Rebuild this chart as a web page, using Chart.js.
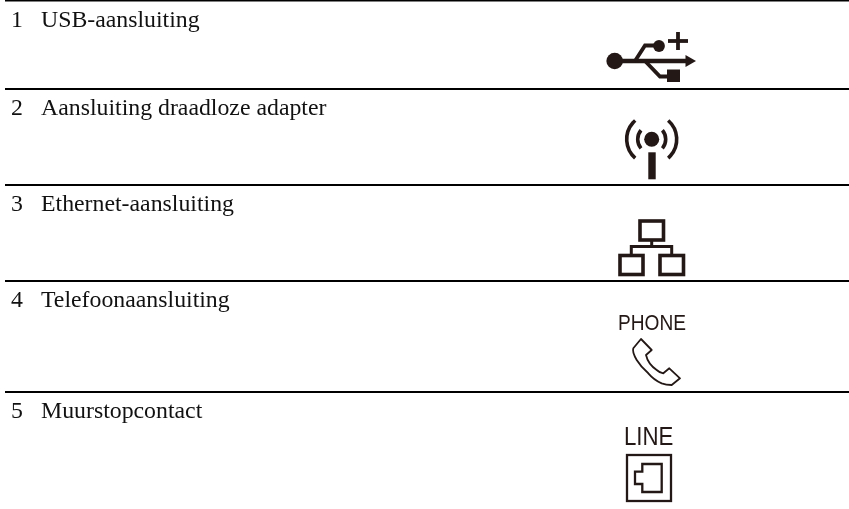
<!DOCTYPE html>
<html><head><meta charset="utf-8">
<script src="https://cdn.jsdelivr.net/npm/chart.js@4"></script>
<style>html,body{margin:0;padding:0;background:#fff}canvas{display:block}</style></head>
<body><canvas id="c" width="849" height="509"></canvas>
<script>
const rowNumbers = ["1","2","3","4","5"];
const rowLabels = ["USB-aansluiting","Aansluiting draadloze adapter","Ethernet-aansluiting","Telefoonaansluiting","Muurstopcontact"];
const rowBaselines = [26.7,115,210.7,307.3,417.7];
const ruleRows = [0.5,89,185,281,392];
const ruleStart = 5, ruleEnd = 849;
const iconCaptions = ["PHONE","LINE"];
const INK = "#231815";

const ruleData = [];
ruleRows.forEach(y => { ruleData.push({x:ruleStart,y},{x:ruleEnd,y},{x:ruleStart,y:null}); });

function poly(ctx,X,Y,pts,close){
  ctx.beginPath();
  pts.forEach((p,i)=> i? ctx.lineTo(X(p[0]),Y(p[1])) : ctx.moveTo(X(p[0]),Y(p[1])));
  if(close) ctx.closePath();
}
function squeezed(ctx,text,x,y,font,sx){
  ctx.save();ctx.translate(x,y);ctx.scale(sx,1);ctx.font=font;ctx.fillText(text,0,0);ctx.restore();
}
const tablePlugin = {
  id:"table",
  afterDatasetsDraw(chart){
    const ctx=chart.ctx, X=v=>chart.scales.x.getPixelForValue(v), Y=v=>chart.scales.y.getPixelForValue(v);
    ctx.save();
    ctx.textBaseline="alphabetic"; ctx.textAlign="left"; ctx.fillStyle="#111";
    ctx.font='23.8px "Liberation Serif"';
    rowLabels.forEach((t,i)=>{
      ctx.fillText(rowNumbers[i],X(11),Y(rowBaselines[i]));
      ctx.fillText(t,X(41),Y(rowBaselines[i]));
    });
    ctx.strokeStyle=INK; ctx.fillStyle=INK; ctx.lineCap="butt"; ctx.lineJoin="miter";
    // USB
    ctx.beginPath();ctx.arc(X(614.7),Y(61),8.3,0,7);ctx.fill();
    ctx.beginPath();ctx.arc(X(659),Y(46),5.9,0,7);ctx.fill();
    ctx.lineWidth=4.5;
    poly(ctx,X,Y,[[615,61],[688,61]]);ctx.stroke();
    ctx.lineWidth=3.8;
    poly(ctx,X,Y,[[635,61],[645,45.5],[658,45.5]]);ctx.stroke();
    poly(ctx,X,Y,[[645,61],[660,76.5],[670,76.5]]);ctx.stroke();
    poly(ctx,X,Y,[[668,41],[688,41]]);ctx.stroke();
    poly(ctx,X,Y,[[678,32],[678,50]]);ctx.stroke();
    poly(ctx,X,Y,[[685.5,55],[696,61],[685.5,67]],true);ctx.fill();
    ctx.fillRect(X(667),Y(69.5),13,12.5);
    // Wireless
    ctx.beginPath();ctx.arc(X(651.7),Y(139.3),7.5,0,7);ctx.fill();
    ctx.fillRect(X(648.3),Y(152.3),7.4,27);
    ctx.lineWidth=3.6;
    [[14,0.7],[25,0.85]].forEach(([r,a])=>{
      ctx.beginPath();ctx.arc(X(651.7),Y(139.3),r,-a,a);ctx.stroke();
      ctx.beginPath();ctx.arc(X(651.7),Y(139.3),r,Math.PI-a,Math.PI+a);ctx.stroke();
    });
    // Ethernet
    ctx.lineWidth=3.6;
    ctx.strokeRect(X(640),Y(221),23.5,19);
    ctx.strokeRect(X(620),Y(255.5),23,19);
    ctx.strokeRect(X(660),Y(255.5),23.5,19);
    ctx.lineWidth=3;
    poly(ctx,X,Y,[[651.7,240],[651.7,246.5]]);ctx.stroke();
    poly(ctx,X,Y,[[631.3,254],[631.3,246.5],[671.7,246.5],[671.7,254]]);ctx.stroke();
    // Captions
    ctx.fillStyle=INK;
    squeezed(ctx,iconCaptions[0],X(618),Y(329.5),'22.5px "Liberation Sans"',0.85);
    squeezed(ctx,iconCaptions[1],X(624),Y(445),'25px "Liberation Sans"',0.89);
    // Handset
    ctx.lineWidth=1.8; ctx.lineJoin="round";
    ctx.beginPath();
    ctx.moveTo(X(641),Y(339));
    ctx.lineTo(X(651.7),Y(350));
    ctx.lineTo(X(646),Y(355));
    ctx.quadraticCurveTo(X(648),Y(364),X(656.7),Y(370));
    ctx.quadraticCurveTo(X(660),Y(373),X(663.3),Y(373.3));
    ctx.lineTo(X(669.3),Y(368.3));
    ctx.lineTo(X(680),Y(378.3));
    ctx.lineTo(X(671.7),Y(385));
    ctx.quadraticCurveTo(X(666),Y(385),X(661.7),Y(383.3));
    ctx.quadraticCurveTo(X(654),Y(380),X(648.3),Y(373.3));
    ctx.quadraticCurveTo(X(641),Y(367),X(636.7),Y(360));
    ctx.quadraticCurveTo(X(632),Y(352),X(633.3),Y(348.3));
    ctx.closePath();ctx.stroke();
    // Line jack
    ctx.lineJoin="miter"; ctx.lineWidth=2.3;
    ctx.strokeRect(X(627),Y(455),44,46);
    poly(ctx,X,Y,[[642.3,464],[661.7,464],[661.7,492],[642.3,492],[642.3,484],[635,484],[635,471.7],[642.3,471.7]],true);ctx.stroke();
    ctx.restore();
  }
};
new Chart(document.getElementById("c"),{
  type:"scatter",
  data:{datasets:[{data:ruleData,showLine:true,spanGaps:false,borderColor:"#000",borderWidth:2,pointRadius:0,clip:false}]},
  options:{responsive:false,animation:false,
    layout:{padding:0},
    plugins:{legend:{display:false},tooltip:{enabled:false}},
    scales:{
      x:{type:"linear",display:false,min:0,max:849},
      y:{type:"linear",display:false,min:0,max:509,reverse:true}
    }},
  plugins:[tablePlugin]
});
</script></body></html>
